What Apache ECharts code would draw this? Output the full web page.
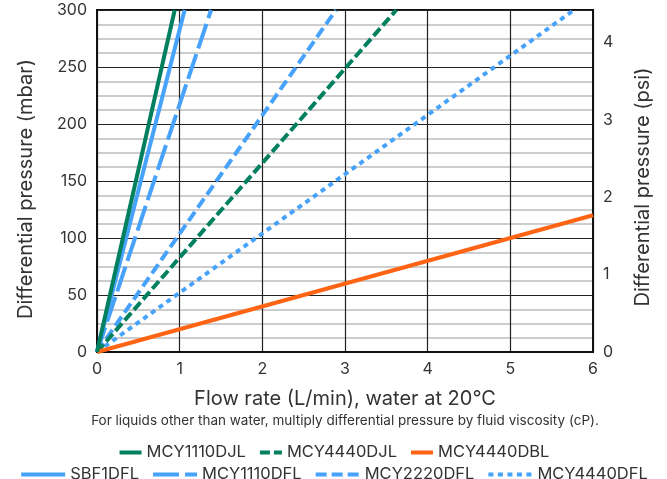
<!DOCTYPE html>
<html>
<head>
<meta charset="utf-8">
<script src="https://cdn.jsdelivr.net/npm/echarts@6/dist/echarts.min.js"></script>
<style>html,body{margin:0;padding:0;background:#fff}#c{width:667px;height:479px}</style>
</head>
<body>
<div id="c"></div>
<script>
// Data (flow L/min, differential pressure mbar)
const seriesNames = ['MCY1110DJL','MCY4440DJL','MCY4440DBL','SBF1DFL','MCY1110DFL','MCY2220DFL','MCY4440DFL'];
const mcy1110djl = [[0,0],[0.94,300]];
const mcy4440djl = [[0,0],[3.62,300]];
const mcy4440dbl = [[0,0],[6,120]];
const sbf1dfl    = [[0,0],[1.06,300]];
const mcy1110dfl = [[0,0],[1.38,300]];
const mcy2220dfl = [[0,0],[2.89,300]];
const mcy4440dfl = [[0,0],[5.77,300]];
const xTicks = [0,1,2,3,4,5,6];
const yTicksMbar = [0,50,100,150,200,250,300];
const yTicksPsi = [0,1,2,3,4];

const GREEN = '#00805f', BLUE = '#47a2fb', ORANGE = '#ff6414';
const FONT = 'Inter';

function mk(name, data, color, dash) {
  return {
    name: name, type: 'line', data: data, symbol: 'none', yAxisIndex: 0,
    lineStyle: { color: color, width: 4, type: dash || 'solid' },
    itemStyle: { color: color },
    silent: true, animation: false, clip: true
  };
}

const chart = echarts.init(document.getElementById('c'), null, {renderer: 'canvas'});
chart.setOption({
  animation: false,
  textStyle: { fontFamily: FONT },
  grid: { left: 97, right: 74, top: 10, bottom: 127, show: true, borderColor: '#111', borderWidth: 2, backgroundColor: 'transparent' },
  xAxis: {
    type: 'value', min: xTicks[0], max: xTicks[xTicks.length-1], interval: 1,
    name: 'Flow rate (L/min), water at 20°C', nameLocation: 'middle', nameGap: 37,
    nameTextStyle: { fontSize: 20, color: '#333', fontFamily: FONT },
    axisLine: { show: true, lineStyle: { color: '#111', width: 2 } },
    axisTick: { show: false },
    axisLabel: { fontSize: 16, color: '#333', margin: 9, fontFamily: FONT },
    splitLine: { show: true, lineStyle: { color: '#222', width: 1.2 } }
  },
  yAxis: [{
    type: 'value', min: yTicksMbar[0], max: yTicksMbar[yTicksMbar.length-1], interval: 50,
    name: 'Differential pressure (mbar)', nameLocation: 'middle', nameGap: 61, nameRotate: 90,
    nameTextStyle: { fontSize: 20, color: '#333', fontFamily: FONT, padding: [0, 16, 0, 0] },
    axisLine: { show: true, lineStyle: { color: '#111', width: 2 } },
    axisTick: { show: false },
    axisLabel: { fontSize: 16, color: '#333', margin: 10, fontFamily: FONT },
    splitLine: { show: true, lineStyle: { color: '#222', width: 1.2 } },
    minorTick: { show: false, splitNumber: 4 },
    minorSplitLine: { show: true, lineStyle: { color: '#bdbdbd', width: 1.5 } }
  }, {
    type: 'value', min: 0, max: 4.42, interval: 1, position: 'right',
    name: 'Differential pressure (psi)', nameLocation: 'middle', nameGap: 40, nameRotate: 90,
    nameTextStyle: { fontSize: 20, color: '#333', fontFamily: FONT, padding: [0, 12, 0, 0] },
    axisLine: { show: true, lineStyle: { color: '#111', width: 2 } },
    axisTick: { show: false },
    axisLabel: { fontSize: 16, color: '#333', margin: 10, fontFamily: FONT,
      formatter: function(v){ return yTicksPsi.indexOf(v) >= 0 ? String(v) : ''; } },
    splitLine: { show: false }
  }],
  legend: [{
    data: seriesNames.slice(0,3), left: 'center', top: 439, itemWidth: 22, itemHeight: 14, itemGap: 12,
    padding: [5, 5, 5, 25],
    itemStyle: { opacity: 0 }, lineStyle: { width: 4 },
    textStyle: { fontSize: 16.5, color: '#333', fontFamily: FONT }, selectedMode: false
  }, {
    data: seriesNames.slice(3), left: 'center', top: 461, itemWidth: 44, itemHeight: 14, itemGap: 12,
    padding: [5, 5, 5, 17],
    itemStyle: { opacity: 0 }, lineStyle: { width: 4 },
    textStyle: { fontSize: 16.5, color: '#333', fontFamily: FONT }, selectedMode: false
  }],
  graphic: [{
    type: 'text', x: 345, y: 414,
    style: { text: 'For liquids other than water, multiply differential pressure by fluid viscosity (cP).',
      fontSize: 13.5, fill: '#333', fontFamily: FONT, align: 'center', verticalAlign: 'top' }
  }],
  series: [
    mk(seriesNames[3], sbf1dfl, BLUE),
    mk(seriesNames[4], mcy1110dfl, BLUE, [26,6]),
    mk(seriesNames[5], mcy2220dfl, BLUE, [11,5]),
    mk(seriesNames[6], mcy4440dfl, BLUE, [5,4.5]),
    mk(seriesNames[1], mcy4440djl, GREEN, [10,4]),
    mk(seriesNames[2], mcy4440dbl, ORANGE),
    mk(seriesNames[0], mcy1110djl, GREEN)
  ]
});
</script>
</body>
</html>
